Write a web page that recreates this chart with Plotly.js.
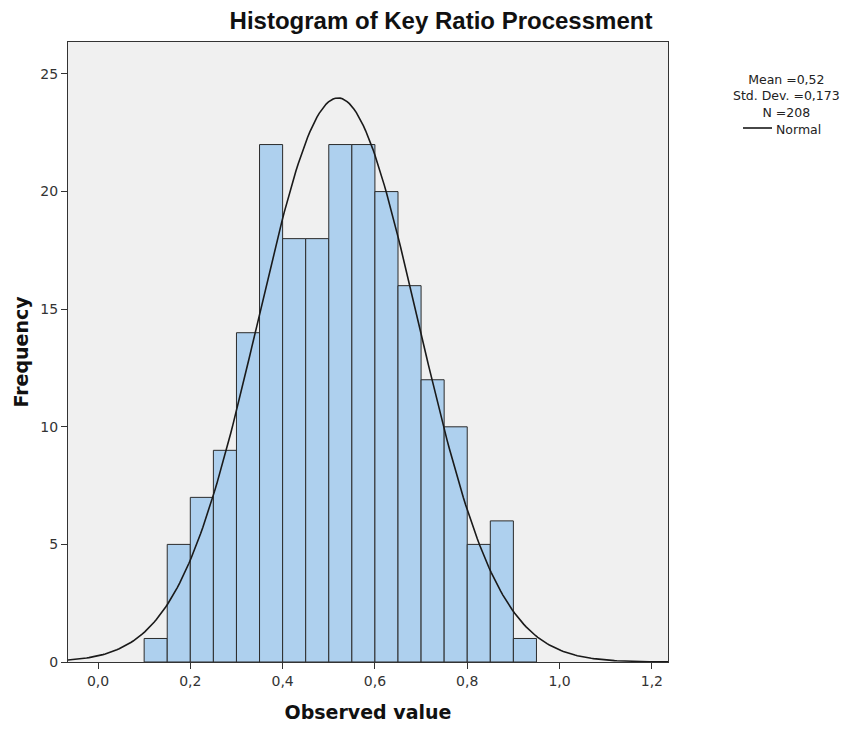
<!DOCTYPE html>
<html>
<head>
<meta charset="utf-8">
<script src="https://cdn.plot.ly/plotly-3.0.1.min.js"></script>
<style>html,body{margin:0;padding:0;background:#fff;}#chart{width:852px;height:730px;}</style>
</head>
<body>
<div id="chart"></div>
<script>
// Histogram bins (lower edges) and frequencies
var binStarts = [0.10,0.15,0.20,0.25,0.30,0.35,0.40,0.45,0.50,0.55,0.60,0.65,0.70,0.75,0.80,0.85,0.90];
var counts    = [1,5,7,9,14,22,18,18,22,22,20,16,12,10,5,6,1];
var binWidth = 0.05;
// Summary statistics shown in legend
var meanVal = 0.52;
var sdVal = 0.173;
var nVal = 208;
var statLabels = ["Mean =0,52", "Std. Dev. =0,173", "N =208"];
var xTickVals = [0,0.2,0.4,0.6,0.8,1.0,1.2];
var yTickVals = [0,5,10,15,20,25];

var centers = binStarts.map(function(b){return b + binWidth/2;});

// normal curve from mean / sd scaled to counts
var cx = [], cy = [];
var x0 = -0.07, x1 = 1.24, steps = 260;
for (var i = 0; i <= steps; i++) {
  var x = x0 + (x1 - x0) * i / steps;
  var z = (x - meanVal) / sdVal;
  cx.push(x);
  cy.push(nVal * binWidth * Math.exp(-0.5*z*z) / (sdVal*Math.sqrt(2*Math.PI)));
}

var sans = "Liberation Sans, Arial, sans-serif";
var wide = "DejaVu Sans, Verdana, sans-serif";

var traces = [
  {type:'bar', x:centers, y:counts, width:binWidth,
   marker:{color:'#aed0ee', line:{color:'#2b2b2b', width:1}},
   showlegend:false, hoverinfo:'x+y'},
  {type:'scatter', mode:'lines', x:cx, y:cy,
   line:{color:'#1a1a1a', width:1.6}, showlegend:false, name:'Normal'}
];

var lx = (786-68)/600;
function py(v){ return (662-v)/620; }

var layout = {
  width:852, height:730,
  margin:{l:68, r:184, t:42, b:68},
  paper_bgcolor:'#ffffff', plot_bgcolor:'#f0f0f0',
  separators:', ',
  bargap:0,
  font:{family:wide, color:'#222', size:13},
  title:{text:'<b>Histogram of Key Ratio Processment</b>', font:{size:24, family:sans, color:'#111'},
         xref:'container', x:441/852, xanchor:'center', yref:'container', y:1-21/730, yanchor:'middle'},
  xaxis:{range:[-0.065,1.235], tickvals:xTickVals, tickformat:'.1f', ticks:'outside', ticklen:6,
         tickcolor:'#333', tickfont:{size:14, family:wide, color:'#333'}, showgrid:false, zeroline:false,
         showline:true, linecolor:'#333', linewidth:1, mirror:true,
         title:{text:'<b>Observed value</b>', font:{size:19, family:wide, color:'#111'}, standoff:17}},
  yaxis:{range:[0,26.36], tickvals:yTickVals, ticks:'outside', ticklen:6,
         tickcolor:'#333', tickfont:{size:14, family:wide, color:'#333'}, showgrid:false, zeroline:false,
         showline:true, linecolor:'#333', linewidth:1, mirror:true,
         title:{text:'<b>Frequency</b>', font:{size:19, family:wide, color:'#111'}, standoff:6}},
  annotations:[
    {xref:'paper', yref:'paper', x:lx, y:py(96), text:statLabels.join('<br>'), showarrow:false, xanchor:'center', yanchor:'middle', align:'center', font:{size:12.5, family:wide, color:'#222'}},
    {xref:'paper', yref:'paper', x:(774-68)/600, y:py(129), text:'Normal', showarrow:false, xanchor:'left', yanchor:'middle', font:{size:12.5, family:wide, color:'#222'}}
  ],
  shapes:[
    {type:'line', xref:'paper', yref:'paper', x0:(743-68)/600, x1:(772-68)/600, y0:py(128), y1:py(128), line:{color:'#1a1a1a', width:1.6}}
  ]
};

Plotly.newPlot('chart', traces, layout, {displayModeBar:false, staticPlot:true});
</script>
</body>
</html>
